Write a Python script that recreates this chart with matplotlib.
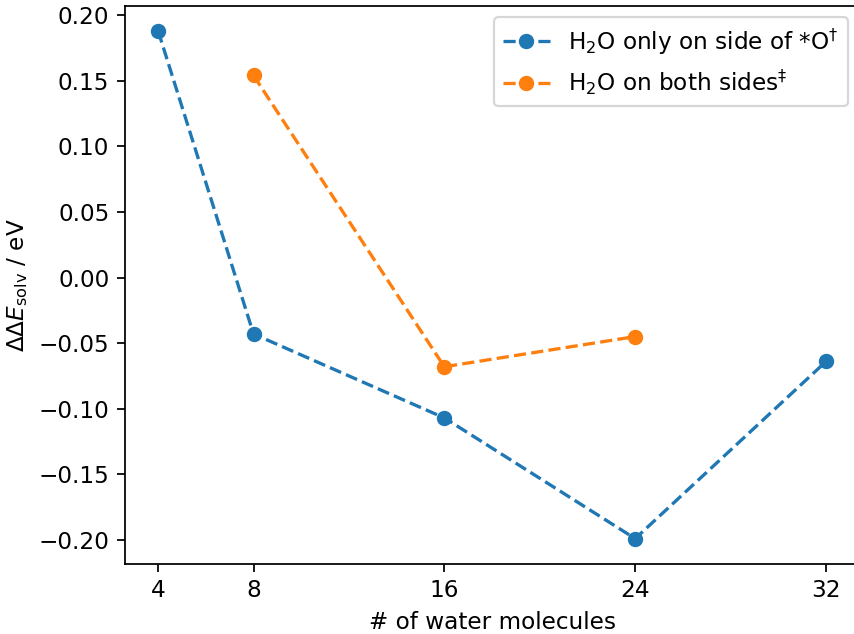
import matplotlib
matplotlib.use("Agg")
import matplotlib.pyplot as plt

x_one = [4, 8, 16, 24, 32]
y_one = [0.188, -0.043, -0.107, -0.199, -0.064]
x_both = [8, 16, 24]
y_both = [0.154, -0.068, -0.045]
xticks = [4, 8, 16, 24, 32]
label_one = r'H$_2$O only on side of *O$^{\dagger}$'
label_both = r'H$_2$O on both sides$^{\ddagger}$'

plt.rcParams['font.size'] = 10.55
dpi = 158
fig = plt.figure(figsize=(854 / dpi, 634 / dpi), dpi=dpi)
ax = fig.add_axes([124.7 / 854, 1 - 564 / 634, (859.4 - 124.7) / 854, (564 - 5.5) / 634])
ax.plot(x_one, y_one, 'o--', color='#1f77b4', label=label_one)
ax.plot(x_both, y_both, 'o--', color='#ff7f0e', label=label_both)
ax.set_xticks(xticks)
ax.set_xlabel('# of water molecules')
ax.set_ylabel(r'$\Delta\Delta E_{\rm solv}$ / eV')
ax.legend(loc='upper right')
fig.savefig('out.png', dpi=dpi)
